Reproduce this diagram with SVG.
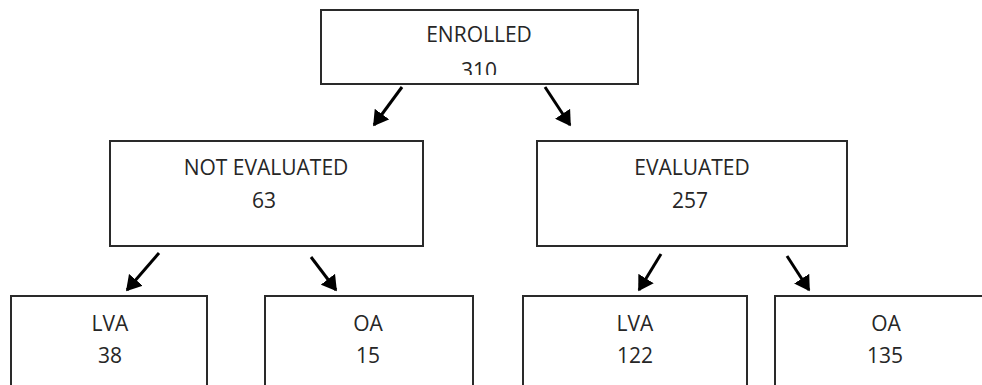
<svg xmlns="http://www.w3.org/2000/svg" width="982" height="385" viewBox="0 0 982 385">
<style>
.box{fill:#fff;stroke:#2a2a2a;stroke-width:2}
.t{font-family:"Open Sans","Liberation Sans",sans-serif;font-size:21px;fill:#262626;text-anchor:middle}
.arr{stroke:#000;stroke-width:3;fill:none;marker-end:url(#ah)}
</style>
<defs>
<marker id="ah" markerWidth="6" markerHeight="6" refX="4.5" refY="3" orient="auto" markerUnits="strokeWidth">
<path d="M0,0 L5,3 L0,6 Z" fill="#000"/>
</marker>
<clipPath id="clipTop"><rect x="321" y="10" width="317" height="65"/></clipPath>
</defs>
<rect width="982" height="385" fill="#fff"/>
<g id="connectors">
<line class="arr" x1="402" y1="87" x2="374" y2="125"/>
<line class="arr" x1="545" y1="87" x2="570" y2="125"/>
<line class="arr" x1="159" y1="253" x2="127" y2="290"/>
<line class="arr" x1="311" y1="257" x2="336" y2="290"/>
<line class="arr" x1="661" y1="254" x2="639" y2="290"/>
<line class="arr" x1="787" y1="256" x2="809" y2="290"/>
</g>
<g id="enrolled">
<rect class="box" x="321" y="10" width="317" height="74"/>
<text class="t" x="479" y="42">ENROLLED</text>
<text class="t" x="479" y="78" clip-path="url(#clipTop)">310</text>
</g>
<g id="not-evaluated">
<rect class="box" x="110" y="141" width="313" height="105"/>
<text class="t" x="266" y="175">NOT EVALUATED</text>
<text class="t" x="264" y="208">63</text>
</g>
<g id="evaluated">
<rect class="box" x="537" y="141" width="310" height="105"/>
<text class="t" x="692" y="175">EVALUATED</text>
<text class="t" x="690" y="208">257</text>
</g>
<g id="lva-1">
<rect class="box" x="11" y="296" width="196" height="110"/>
<text class="t" x="110" y="331">LVA</text>
<text class="t" x="110" y="363">38</text>
</g>
<g id="oa-1">
<rect class="box" x="265" y="296" width="208" height="110"/>
<text class="t" x="368" y="331">OA</text>
<text class="t" x="368" y="363">15</text>
</g>
<g id="lva-2">
<rect class="box" x="523" y="296" width="224" height="110"/>
<text class="t" x="635" y="331">LVA</text>
<text class="t" x="635" y="363">122</text>
</g>
<g id="oa-2">
<rect class="box" x="775" y="296" width="230" height="110"/>
<text class="t" x="886" y="331">OA</text>
<text class="t" x="885" y="363">135</text>
</g>
</svg>
